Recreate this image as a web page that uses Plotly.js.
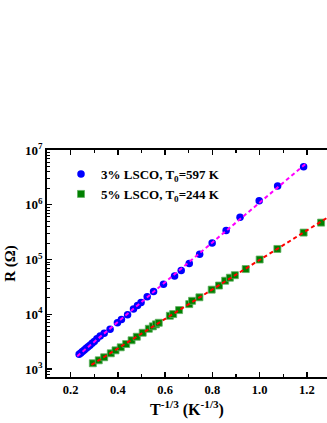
<!DOCTYPE html>
<html><head><meta charset="utf-8">
<script src="https://cdn.plot.ly/plotly-3.0.1.min.js"></script>
<style>html,body{margin:0;padding:0;overflow:hidden;background:#fff}</style>
</head><body><div id="chart" style="width:327px;height:423px"></div>
<script>
// 3% LSCO
const xA = [0.236,0.243,0.250,0.258,0.266,0.274,0.282,0.291,0.300,0.311,0.325,0.342,0.367,0.398,0.415,0.441,0.466,0.483,0.498,0.524,0.551,0.593,0.640,0.668,0.702,0.746,0.799,0.858,0.917,0.998,1.076,1.186];
const rA = [1862,1972,2089,2239,2388,2559,2735,2951,3199,3581,4009,4487,5309,6998,8072,9795,12450,14520,16480,20840,26120,35480,50230,63100,84530,125000,200400,337300,590200,1189000,2193000,4943000];
// 5% LSCO
const xB = [0.294,0.319,0.342,0.370,0.390,0.412,0.435,0.458,0.480,0.505,0.531,0.548,0.561,0.573,0.620,0.634,0.659,0.702,0.714,0.745,0.797,0.828,0.854,0.874,0.895,0.941,1.000,1.075,1.186,1.260];
const rB = [1276,1445,1641,1941,2198,2495,2864,3350,3890,4603,5445,6026,6546,6998,9397,10090,11940,15350,17620,20420,28180,33500,41020,46560,51760,66990,100000,156000,310500,472100];
const nameA = '3% LSCO, T<sub>0</sub>=597 K';
const nameB = '5% LSCO, T<sub>0</sub>=244 K';
const fitRangeA = [0.228, 1.20];
const fitRangeB = [0.288, 1.29];

function fit(xs, ys, xr) {
  const n = xs.length; let sx=0, sy=0, sxx=0, sxy=0;
  for (let i=0;i<n;i++){ const y=Math.log10(ys[i]); sx+=xs[i]; sy+=y; sxx+=xs[i]*xs[i]; sxy+=xs[i]*y; }
  const m = (n*sxy - sx*sy)/(n*sxx - sx*sx), b = (sy - m*sx)/n;
  return {x: xr, y: xr.map(v => Math.pow(10, m*v + b))};
}
const fA = fit(xA, rA, fitRangeA), fB = fit(xB, rB, fitRangeB);
const F = 'Liberation Serif, Times New Roman, serif';

const traces = [
  {x: xA, y: rA, mode:'markers', name: nameA, marker:{symbol:'circle', size:7.5, color:'#0000FF', line:{width:0}}},
  {x: xB, y: rB, mode:'markers', name: nameB, marker:{symbol:'square', size:7, color:'#008000', line:{color:'#5fb05f', width:0.8}}},
  {x: fA.x, y: fA.y, mode:'lines', line:{color:'#FF00FF', width:2, dash:'4px,3px'}, showlegend:false, hoverinfo:'skip'},
  {x: fB.x, y: fB.y, mode:'lines', line:{color:'#FF0000', width:2, dash:'4px,3px'}, showlegend:false, hoverinfo:'skip'}
];

const layout = {
  width: 327, height: 423,
  margin: {l:47, r:0, t:149.5, b:46},
  paper_bgcolor:'#fff', plot_bgcolor:'#fff',
  font: {family: F, color:'#000'},
  showlegend: true,
  legend: {x:0.05, y:0.96, xanchor:'left', yanchor:'top', bgcolor:'rgba(0,0,0,0)',
           font:{family:F, size:13, weight:'bold', color:'#000'}, tracegroupgap:0, itemwidth:30},
  xaxis: {range:[0.1, 1.285], tickvals:[0.2,0.4,0.6,0.8,1.0,1.2], ticktext:['0.2','0.4','0.6','0.8','1.0','1.2'],
          showgrid:false, zeroline:false, showline:true, linecolor:'#000', linewidth:1.8, mirror:'ticks',
          ticks:'inside', ticklen:5, tickwidth:1.3, tickcolor:'#000',
          minor:{tickvals:[0.1,0.3,0.5,0.7,0.9,1.1], ticks:'inside', ticklen:3, tickwidth:1.2, tickcolor:'#000', showgrid:false},
          tickfont:{family:F, size:12.5, weight:'bold', color:'#000'},
          title:{text:'T<sup>-1/3</sup> (K<sup>-1/3</sup>)', font:{family:F, size:16, weight:'bold', color:'#000'}, standoff:8}},
  yaxis: {type:'log', range:[2.855, 7], showgrid:false, zeroline:false, showline:true, linecolor:'#000', linewidth:1.8,
          tickvals:[1e3,1e4,1e5,1e6,1e7], ticktext:['10<sup>3</sup>','10<sup>4</sup>','10<sup>5</sup>','10<sup>6</sup>','10<sup>7</sup>'],
          ticks:'inside', ticklen:5, tickwidth:1.3, tickcolor:'#000',
          minor:{dtick:'D1', ticks:'inside', ticklen:3, tickwidth:1, tickcolor:'#000', showgrid:false},
          tickfont:{family:F, size:13, weight:'bold', color:'#000'},
          title:{text:'R (Ω)', font:{family:F, size:15, weight:'bold', color:'#000'}, standoff:6}}
};
Plotly.newPlot('chart', traces, layout, {displayModeBar:false, staticPlot:true});
</script></body></html>
